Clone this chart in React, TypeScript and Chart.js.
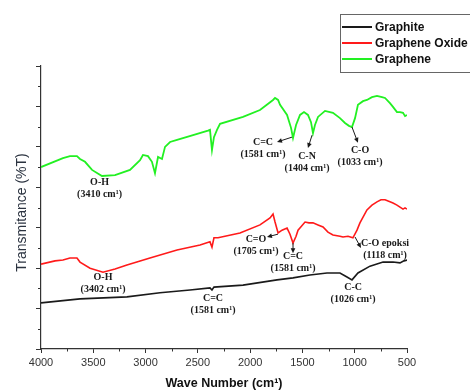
import React, { useEffect, useRef } from "react";
import { Chart, registerables } from "chart.js";

Chart.register(...registerables);

// ---------- data (wavenumber cm-1, transmittance in arbitrary offset units) ----------
const grapheneWn = [4000, 3790, 3723, 3656, 3627, 3579, 3512, 3417, 3292, 3149, 3053, 3025, 2977, 2939, 2910, 2881, 2843, 2814, 2766, 2699, 2546, 2403, 2384, 2365, 2346, 2317, 2288, 2068, 1906, 1781, 1762, 1733, 1714, 1647, 1609, 1590, 1561, 1523, 1485, 1447, 1418, 1399, 1380, 1351, 1284, 1208, 1141, 1093, 1055, 1026, 997, 969, 921, 883, 835, 787, 739, 710, 663, 634, 596, 567, 538, 519, 500];
const grapheneT = [4.50, 4.72, 4.77, 4.77, 4.70, 4.63, 4.43, 4.28, 4.30, 4.43, 4.67, 4.80, 4.77, 4.63, 4.35, 4.75, 4.70, 5.00, 5.12, 5.17, 5.29, 5.40, 5.42, 4.92, 5.24, 5.42, 5.57, 5.74, 5.91, 6.16, 6.21, 6.16, 6.04, 5.79, 5.47, 5.22, 5.54, 5.79, 5.86, 5.79, 5.61, 5.34, 5.54, 5.74, 5.89, 5.84, 5.71, 5.59, 5.52, 5.49, 5.71, 6.04, 6.13, 6.16, 6.23, 6.26, 6.23, 6.21, 6.08, 5.99, 5.86, 5.86, 5.84, 5.76, 5.79];

const oxideWn = [4000, 3866, 3790, 3723, 3656, 3627, 3531, 3407, 3292, 3178, 2958, 2699, 2479, 2384, 2365, 2346, 2307, 2097, 1906, 1810, 1781, 1762, 1733, 1695, 1647, 1619, 1590, 1561, 1542, 1475, 1437, 1399, 1351, 1303, 1256, 1208, 1141, 1112, 1064, 1017, 978, 950, 883, 835, 787, 749, 710, 663, 634, 596, 567, 538, 519, 500];
const oxideT = [2.10, 2.18, 2.20, 2.25, 2.25, 2.15, 2.00, 1.90, 1.98, 2.08, 2.25, 2.45, 2.57, 2.65, 2.52, 2.75, 2.75, 2.87, 3.07, 3.24, 3.34, 3.14, 2.87, 2.94, 2.99, 2.84, 2.62, 2.79, 2.94, 3.14, 3.12, 3.12, 3.07, 3.02, 2.89, 2.82, 2.79, 2.77, 2.79, 2.75, 2.94, 3.12, 3.44, 3.56, 3.64, 3.69, 3.69, 3.64, 3.61, 3.56, 3.51, 3.46, 3.49, 3.46];

const graphiteWn = [4000, 3627, 3178, 2862, 2575, 2384, 2365, 2346, 2068, 1743, 1590, 1428, 1265, 1141, 1074, 1026, 969, 854, 729, 634, 567, 529, 500];
const graphiteT = [1.14, 1.24, 1.29, 1.39, 1.46, 1.51, 1.46, 1.53, 1.58, 1.71, 1.76, 1.83, 1.88, 1.88, 1.78, 1.71, 1.88, 2.05, 2.15, 2.15, 2.13, 2.18, 2.20];

const seriesNames = ["Graphite", "Graphene Oxide", "Graphene"];
const seriesColors = ["#1a1a1a", "#ff1a1a", "#22f022"];

const xTickValues = [4000, 3500, 3000, 2500, 2000, 1500, 1000, 500];
const xTitle = "Wave Number (cm¹)";
const yTitle = "Transmitance (%T)";

// annotations
const annLabels = ["O-H", "C=C", "C-N", "C-O", "O-H", "C=O", "C=C", "C-O epoksi", "C=C", "C-C"];
const annSub = ["(3410 cm¹)", "(1581 cm¹)", "(1404 cm¹)", "(1033 cm¹)", "(3402 cm¹)", "(1705 cm¹)", "(1581 cm¹)", "(1118 cm¹)", "(1581 cm¹)", "(1026 cm¹)"];
const annWn = [3440, 1877, 1456, 949, 3407, 1944, 1590, 710, 2355, 1016];
const annT = [4.13, 5.12, 4.77, 4.90, 1.76, 2.72, 2.28, 2.62, 1.26, 1.53];
const arrowFromWn = [null, 1600, 1408, 1026, null, 1734, 1590, 997, null, null];
const arrowFromT = [null, 5.24, 5.29, 5.49, null, 2.84, 2.62, 2.77, null, null];
const arrowToWn = [null, 1743, 1447, 969, null, 1839, 1590, 940, null, null];
const arrowToT = [null, 5.12, 4.97, 5.10, null, 2.77, 2.37, 2.50, null, null];

const toPoints = (xs: number[], ys: number[]) => xs.map((x, i) => ({ x, y: ys[i] }));

const decorPlugin = {
  id: "decor",
  afterDraw(chart: any) {
    const { ctx, scales, chartArea } = chart;
    const x = scales.x;
    const y = scales.y;
    ctx.save();
    // minor ticks
    ctx.strokeStyle = "#333";
    ctx.lineWidth = 1;
    ctx.beginPath();
    for (let v = 750; v < 4000; v += 500) {
      const px = Math.round(x.getPixelForValue(v)) + 0.5;
      ctx.moveTo(px, chartArea.bottom);
      ctx.lineTo(px, chartArea.bottom + 2.5);
    }
    for (let v = 0.5; v < 7; v += 1) {
      const py = Math.round(y.getPixelForValue(v)) + 0.5;
      ctx.moveTo(chartArea.left, py);
      ctx.lineTo(chartArea.left - 3, py);
    }
    ctx.stroke();

    // annotations
    ctx.fillStyle = "#1a1a1a";
    ctx.strokeStyle = "#1a1a1a";
    ctx.textAlign = "center";
    ctx.textBaseline = "middle";
    ctx.font = "bold 10px 'Liberation Serif', 'Times New Roman', serif";
    for (let i = 0; i < annLabels.length; i++) {
      const cx = x.getPixelForValue(annWn[i]);
      const cy = y.getPixelForValue(annT[i]);
      ctx.fillText(annLabels[i], cx, cy);
      ctx.fillText(annSub[i], cx, cy + 12);
      if (arrowFromWn[i] != null) {
        const x1 = x.getPixelForValue(arrowFromWn[i] as number);
        const y1 = y.getPixelForValue(arrowFromT[i] as number);
        const x2 = x.getPixelForValue(arrowToWn[i] as number);
        const y2 = y.getPixelForValue(arrowToT[i] as number);
        const ang = Math.atan2(y2 - y1, x2 - x1);
        const hl = 5;
        const hw = 2.3;
        ctx.lineWidth = 1;
        ctx.beginPath();
        ctx.moveTo(x1, y1);
        ctx.lineTo(x2 - Math.cos(ang) * hl * 0.8, y2 - Math.sin(ang) * hl * 0.8);
        ctx.stroke();
        ctx.beginPath();
        ctx.moveTo(x2, y2);
        ctx.lineTo(x2 - Math.cos(ang) * hl - Math.sin(ang) * hw, y2 - Math.sin(ang) * hl + Math.cos(ang) * hw);
        ctx.lineTo(x2 - Math.cos(ang) * hl + Math.sin(ang) * hw, y2 - Math.sin(ang) * hl - Math.cos(ang) * hw);
        ctx.closePath();
        ctx.fill();
      }
    }

    // axis titles
    ctx.fillStyle = "#2b3340";
    ctx.font = "14px 'Liberation Sans', Arial, sans-serif";
    ctx.save();
    ctx.translate(22, (chartArea.top + chartArea.bottom) / 2 + 5);
    ctx.rotate(-Math.PI / 2);
    ctx.fillText(yTitle, 0, 0);
    ctx.restore();
    ctx.fillStyle = "#111";
    ctx.font = "bold 12.5px 'Liberation Sans', Arial, sans-serif";
    ctx.fillText(xTitle, (chartArea.left + chartArea.right) / 2, 384);

    // legend
    const lx = 340;
    const ly = 14;
    ctx.strokeStyle = "#666";
    ctx.lineWidth = 1;
    ctx.strokeRect(lx + 0.5, ly + 0.5, 160, 58);
    ctx.textAlign = "left";
    ctx.font = "bold 12px 'Liberation Sans', Arial, sans-serif";
    chart.data.datasets.forEach((ds: any, i: number) => {
      const yy = ly + 13 + i * 16;
      ctx.strokeStyle = ds.borderColor;
      ctx.lineWidth = 2;
      ctx.beginPath();
      ctx.moveTo(lx + 2, yy);
      ctx.lineTo(lx + 32, yy);
      ctx.stroke();
      ctx.fillStyle = "#111";
      ctx.fillText(ds.label, lx + 35, yy + 0.5);
    });
    ctx.restore();
  },
};

export default function App() {
  const ref = useRef<HTMLCanvasElement | null>(null);
  useEffect(() => {
    document.body.style.margin = "0";
    if (!ref.current) return;
    const chart = new Chart(ref.current, {
      type: "line",
      data: {
        datasets: [
          { label: seriesNames[0], data: toPoints(graphiteWn, graphiteT), borderColor: seriesColors[0], borderWidth: 1.6 },
          { label: seriesNames[1], data: toPoints(oxideWn, oxideT), borderColor: seriesColors[1], borderWidth: 1.6 },
          { label: seriesNames[2], data: toPoints(grapheneWn, grapheneT), borderColor: seriesColors[2], borderWidth: 1.8 },
        ],
      },
      options: {
        animation: false,
        responsive: false,
        maintainAspectRatio: false,
        layout: { padding: { top: 66, right: 63, left: 0, bottom: 0 } },
        plugins: { legend: { display: false }, tooltip: { enabled: false } },
        elements: { point: { radius: 0 }, line: { tension: 0 } },
        scales: {
          x: {
            type: "linear",
            reverse: true,
            min: 500,
            max: 4000,
            afterBuildTicks: (s: any) => {
              s.ticks = xTickValues.map((v) => ({ value: v }));
            },
            ticks: {
              autoSkip: false,
              maxRotation: 0,
              padding: 3,
              color: "#333",
              font: { family: "'Liberation Sans', Arial, sans-serif", size: 11 },
              callback: (v: any) => String(v),
            },
            grid: { drawOnChartArea: false, tickLength: 4, tickColor: "#333" },
            border: { color: "#333", width: 1.2 },
            afterFit: (s: any) => {
              s.height = 43;
            },
          },
          y: {
            min: 0,
            max: 7,
            ticks: { display: false, stepSize: 1 },
            grid: { drawOnChartArea: false, tickLength: 5, tickColor: "#333" },
            border: { color: "#333", width: 1.2 },
            afterFit: (s: any) => {
              s.width = 41;
            },
          },
        },
      },
      plugins: [decorPlugin],
    } as any);
    return () => chart.destroy();
  }, []);
  return (
    <div style={{ width: 470, height: 392, background: "#fff" }}>
      <canvas ref={ref} width={470} height={392} />
    </div>
  );
}
